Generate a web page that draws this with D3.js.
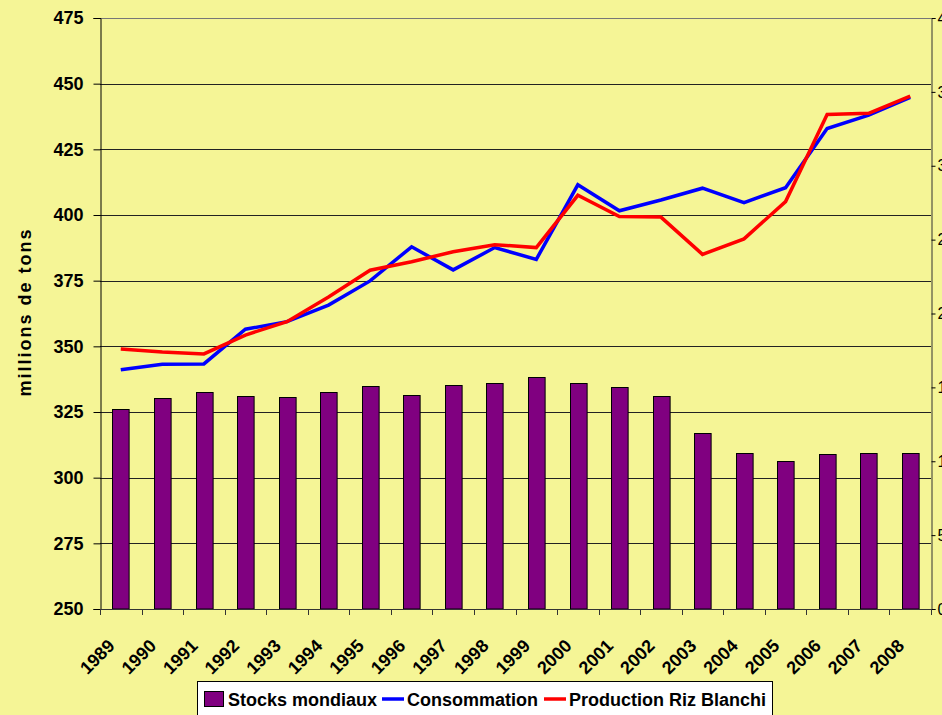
<!DOCTYPE html>
<html>
<head>
<meta charset="utf-8">
<script src="https://cdn.jsdelivr.net/npm/d3@7"></script>
<style>
  html, body { margin: 0; padding: 0; background: #F5F596; overflow: hidden; }
  svg { display: block; font-family: "Liberation Sans", Arial, sans-serif; }
</style>
</head>
<body>
<div id="chart"></div>
<script>
// Years on the x axis
const years = ["1989","1990","1991","1992","1993","1994","1995","1996","1997","1998",
               "1999","2000","2001","2002","2003","2004","2005","2006","2007","2008"];

// World stocks (secondary axis, millions of tons)
const stocks = [135.6, 143.0, 146.7, 144.0, 143.7, 146.9, 150.9, 144.8, 151.4, 152.7,
                157.0, 153.0, 150.5, 144.2, 119.1, 105.4, 100.0, 105.1, 105.8, 105.8];

// Consumption (primary axis)
const consommation = [341.1, 343.2, 343.3, 356.5, 359.4, 365.7, 374.9, 387.9, 379.1, 387.6,
                      383.1, 411.5, 401.6, 405.7, 410.2, 404.7, 410.4, 432.9, 438.0, 444.8];

// Milled rice production (primary axis)
const production = [349.0, 347.8, 347.1, 354.3, 359.4, 368.8, 379.0, 382.2, 386.0, 388.7,
                    387.6, 407.5, 399.4, 399.2, 385.0, 390.9, 405.1, 438.3, 438.7, 445.3];

const leftTicks = [250, 275, 300, 325, 350, 375, 400, 425, 450, 475];
const rightTicks = [0, 50, 100, 150, 200, 250, 300, 350, 400];

const width = 942, height = 715;
const plot = { left: 100, right: 931, top: 18, bottom: 609 };

const svg = d3.select("#chart").append("svg")
    .attr("width", width)
    .attr("height", height);

svg.append("rect")
    .attr("width", width).attr("height", height)
    .attr("fill", "#F5F596");

const x = d3.scaleBand()
    .domain(years)
    .range([plot.left, plot.right])
    .paddingInner(0.6)
    .paddingOuter(0.3);

const yLeft = d3.scaleLinear().domain([250, 475]).range([plot.bottom, plot.top]);
const yRight = d3.scaleLinear().domain([0, 400]).range([plot.bottom, plot.top]);

// Gridlines
svg.append("g")
    .selectAll("line")
    .data(leftTicks.slice(1))
    .join("line")
    .attr("x1", plot.left).attr("x2", plot.right)
    .attr("y1", d => Math.round(yLeft(d)) + 0.5)
    .attr("y2", d => Math.round(yLeft(d)) + 0.5)
    .attr("stroke", d => d === 475 ? "#777" : "#222")
    .attr("stroke-width", 1);

// Bars (stocks)
svg.append("g")
    .selectAll("rect")
    .data(stocks)
    .join("rect")
    .attr("x", (d, i) => Math.round(x(years[i])) + 0.5)
    .attr("y", d => Math.round(yRight(d)) + 0.5)
    .attr("width", x.bandwidth())
    .attr("height", d => plot.bottom - Math.round(yRight(d)) - 0.5)
    .attr("fill", "#800080")
    .attr("stroke", "#000")
    .attr("stroke-width", 1);

// Lines
const line = d3.line()
    .x((d, i) => x(years[i]) + x.bandwidth() / 2)
    .y(d => yLeft(d));

svg.append("path")
    .datum(consommation)
    .attr("d", line)
    .attr("fill", "none")
    .attr("stroke", "#0000FF")
    .attr("stroke-width", 3.5)
    .attr("stroke-linejoin", "miter");

svg.append("path")
    .datum(production)
    .attr("d", line)
    .attr("fill", "none")
    .attr("stroke", "#FF0000")
    .attr("stroke-width", 3.5)
    .attr("stroke-linejoin", "miter");

// Left axis
const leftAxis = svg.append("g")
    .attr("transform", `translate(${plot.left + 0.5},0)`)
    .call(d3.axisLeft(yLeft).tickValues(leftTicks).tickSize(7).tickPadding(10));
leftAxis.select(".domain").attr("stroke", "#000");
leftAxis.selectAll("text")
    .attr("font-size", 18).attr("font-weight", "bold").attr("fill", "#000")
    .attr("font-family", "Liberation Sans, Arial, sans-serif");

// Right axis (labels are clipped by the window edge, as in the original)
const rightAxis = svg.append("g")
    .attr("transform", `translate(${plot.right + 0.5},0)`)
    .call(d3.axisRight(yRight).tickValues(rightTicks).tickSize(4).tickPadding(2));
rightAxis.select(".domain").attr("stroke", "#333");
rightAxis.selectAll("text")
    .attr("font-size", 16).attr("fill", "#000")
    .attr("font-family", "Liberation Sans, Arial, sans-serif");

// Bottom axis: ticks at category boundaries
const bottom = svg.append("g");
bottom.append("line")
    .attr("x1", plot.left).attr("x2", plot.right)
    .attr("y1", plot.bottom + 0.5).attr("y2", plot.bottom + 0.5)
    .attr("stroke", "#333");
bottom.selectAll("line.tick")
    .data(d3.range(years.length + 1))
    .join("line")
    .attr("class", "tick")
    .attr("x1", i => Math.round(plot.left + i * x.step()) + 0.5)
    .attr("x2", i => Math.round(plot.left + i * x.step()) + 0.5)
    .attr("y1", plot.bottom)
    .attr("y2", plot.bottom + 6)
    .attr("stroke", "#333");

bottom.selectAll("text")
    .data(years)
    .join("text")
    .attr("transform", d => `translate(${x(d) + x.bandwidth() / 2 - 5},${plot.bottom + 38}) rotate(-45)`)
    .attr("text-anchor", "end")
    .attr("font-size", 18)
    .attr("font-weight", "bold")
    .text(d => d);

// Y axis title
svg.append("text")
    .attr("transform", `translate(31,312) rotate(-90)`)
    .attr("text-anchor", "middle")
    .attr("font-size", 18)
    .attr("font-weight", "bold")
    .attr("letter-spacing", 2)
    .text("millions de tons");

// Legend
const legend = svg.append("g");
legend.append("rect")
    .attr("x", 197.5).attr("y", 681.5)
    .attr("width", 575).attr("height", 40)
    .attr("fill", "#fff").attr("stroke", "#000");

legend.append("rect")
    .attr("x", 204.5).attr("y", 691.5)
    .attr("width", 19).attr("height", 15)
    .attr("fill", "#800080").attr("stroke", "#000");
legend.append("text")
    .attr("x", 228).attr("y", 706)
    .attr("font-size", 18).attr("font-weight", "bold")
    .text("Stocks mondiaux");

legend.append("line")
    .attr("x1", 382).attr("x2", 404).attr("y1", 699).attr("y2", 699)
    .attr("stroke", "#0000FF").attr("stroke-width", 3.5);
legend.append("text")
    .attr("x", 407).attr("y", 706)
    .attr("font-size", 18).attr("font-weight", "bold")
    .text("Consommation");

legend.append("line")
    .attr("x1", 544).attr("x2", 566).attr("y1", 699).attr("y2", 699)
    .attr("stroke", "#FF0000").attr("stroke-width", 3.5);
legend.append("text")
    .attr("x", 569).attr("y", 706)
    .attr("font-size", 18).attr("font-weight", "bold")
    .text("Production Riz Blanchi");
</script>
</body>
</html>
